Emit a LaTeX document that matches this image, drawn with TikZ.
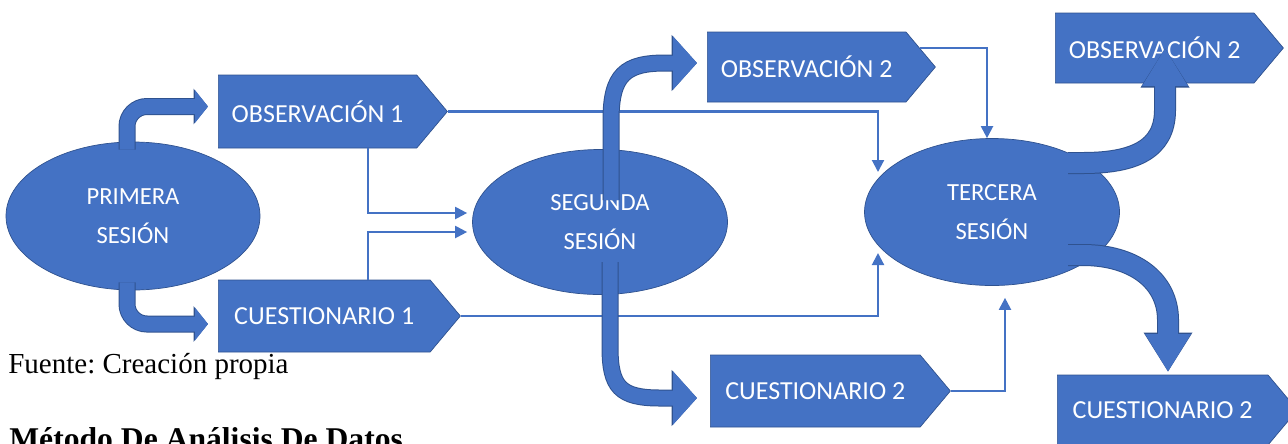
\documentclass[tikz,border=0pt]{standalone}
\usepackage{fontspec}
\setmainfont{Liberation Serif}
\newfontfamily\carlito{Carlito}
\usetikzlibrary{shapes,arrows.meta,calc}
\definecolor{azul}{RGB}{68,114,196}
\definecolor{borde}{RGB}{47,82,143}
\frenchspacing

\begin{document}
\begin{tikzpicture}[x=0.2mm,y=-0.2mm,sesion/.style={ellipse, fill=azul, draw=borde, text=white, align=center, inner sep=0pt, font=\carlito\fontsize{14}{22}\selectfont},caja/.style={signal, signal to=east, signal pointer angle=100, fill=azul, draw=borde, text=white, inner sep=0pt, anchor=west, font=\carlito\fontsize{14.8}{17}\selectfont},conector/.style={azul, line width=1.2pt, -{Triangle[length=0.24cm,width=0.24cm]}},flecha1/.style={azul, line width=0.3cm, -{Triangle[length=0.26cm,width=0.64cm]}, preaction={draw=borde, line width=0.34cm, -{Triangle[length=0.29cm,width=0.7cm]}}},flecha2/.style={azul, line width=0.3cm, -{Triangle[length=0.48cm,width=1.04cm]}, preaction={draw=borde, line width=0.34cm, -{Triangle[length=0.51cm,width=1.1cm]}}},flecha3/.style={azul, line width=0.4cm, -{Triangle[length=0.76cm,width=0.86cm]}, preaction={draw=borde, line width=0.44cm, -{Triangle[length=0.79cm,width=0.92cm]}}}]
\useasboundingbox (0,0) rectangle (1288,443);
\clip (0,0) rectangle (1288,443);
\node[sesion, minimum width=5.08cm, minimum height=2.96cm] (primera) at (133,216) {PRIMERA\\SESIÓN};
\node[sesion, minimum width=5.1cm, minimum height=2.9cm] (segunda) at (600,222) {SEGUNDA\\SESIÓN};
\node[sesion, minimum width=5.1cm, minimum height=2.94cm] (tercera) at (992,212) {TERCERA\\SESIÓN};
\node[caja, minimum width=4.58cm, minimum height=1.46cm] (obs1) at (218,111.5) {OBSERVACIÓN 1};
\node[caja, minimum width=4.84cm, minimum height=1.44cm] (cues1) at (218,316) {CUESTIONARIO 1};
\node[caja, minimum width=4.56cm, minimum height=1.4cm] (obs2) at (707,67) {OBSERVACIÓN 2};
\node[caja, minimum width=4.8cm, minimum height=1.44cm] (cues2) at (710,391) {CUESTIONARIO 2};
\node[caja, minimum width=4.56cm, minimum height=1.4cm] (obs2b) at (1055,48) {OBSERVACIÓN 2};
\node[caja, minimum width=4.8cm, minimum height=1.4cm] (cues2b) at (1057,410) {CUESTIONARIO 2};
\node[anchor=base west, inner sep=0pt, font=\fontsize{16.5}{20}\selectfont] (fuente) at (8,373) {Fuente: Creación propia};
\node[anchor=base west, inner sep=0pt, font=\bfseries\fontsize{18}{22}\selectfont] (metodo) at (9,449) {Método De Análisis De Datos};
% lineas finas
\draw[conector] ($(obs1.west)+(150,36.5)$) |- ($(segunda.west)+(-5,-9)$);
\draw[conector] ($(cues1.west)+(150,-36)$) |- ($(segunda.west)+(-5,10)$);
\draw[conector] (obs1.east) -| ($(tercera.center)+(-114,-40)$);
\draw[conector] (cues1.east) -| ($(tercera.center)+(-114,41)$);
\draw[conector] ($(obs2.east)+(-16,-19)$) -| ($(tercera.north)+(-5,0)$);
\draw[conector] (cues2.east) -| ($(tercera.south)+(13,12)$);
% flechas de bloque
\draw[flecha1, rounded corners=0.4cm] ($(primera.north)+(-6,8)$) |- ($(obs1.west)+(-10,-5)$);
\draw[flecha1, rounded corners=0.4cm] ($(primera.south)+(-6,-8)$) |- ($(cues1.west)+(-10,8)$);
\draw[flecha2] ($(segunda.center)+(11,-22)$) -- ++(0,-80) .. controls +(0,-45) and +(-40,0) .. ($(obs2.west)+(-42,-4)$) -- ($(obs2.west)+(-10,-4)$);
\draw[flecha2] ($(segunda.center)+(10,40)$) -- ++(0,85) .. controls +(0,40) and +(-40,0) .. ($(cues2.west)+(-50,7)$) -- ($(cues2.west)+(-13,7)$);
\draw[flecha3] ($(tercera.center)+(76,-49)$) -- ++(15,0) .. controls +(50,0) and +(0,40) .. ($(obs2b.west)+(110,62)$) -- ($(obs2b.west)+(110,0)$);
\draw[flecha3] ($(tercera.center)+(76,43)$) -- ++(15,0) .. controls +(50,0) and +(0,-40) .. ($(cues2b.west)+(111,-90)$) -- ($(cues2b.west)+(111,-38)$);
\end{tikzpicture}
\end{document}
